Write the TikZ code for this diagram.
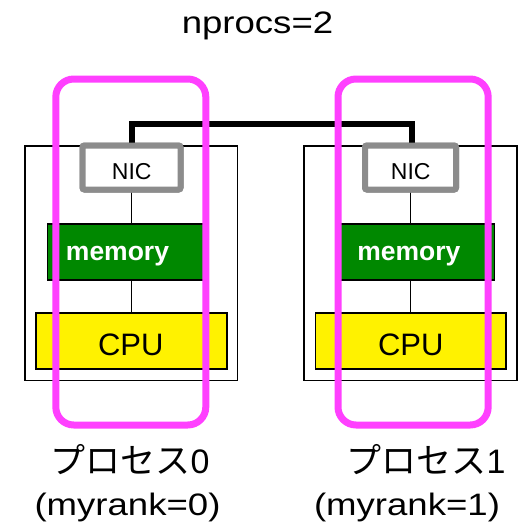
\documentclass[tikz,border=0pt]{standalone}
\usepackage{graphicx}
\usepackage{fontspec}
\setmainfont{Liberation Sans}
\newfontfamily\cjk{Noto Sans CJK JP}
\definecolor{pinkc}{RGB}{255,64,255}
\definecolor{memgreen}{RGB}{0,136,0}
\definecolor{nicgray}{RGB}{140,140,140}
\tikzset{
  hostbox/.style={draw=black,line width=1.5pt,fill=white,inner sep=0pt,outer sep=0pt,minimum height=234.5pt},
  nicbox/.style={draw=nicgray,line width=6pt,fill=white,rounded corners=2pt,inner sep=0pt,outer sep=0pt,minimum height=44pt},
  membox/.style={draw=black,line width=1.8pt,fill=memgreen,inner sep=0pt,outer sep=0pt,minimum width=156.5pt,minimum height=55.7pt},
  cpubox/.style={draw=black,line width=1.8pt,fill=yellow,inner sep=0pt,outer sep=0pt,minimum height=56pt},
  procbox/.style={draw=pinkc,line width=7pt,rounded corners=18pt,inner sep=0pt,outer sep=0pt,minimum height=346pt},
  thin/.style={line width=1.5pt,black},
  net/.style={line width=6pt,black},
  nictext/.style={anchor=base,inner sep=0pt,font=\fontsize{23}{27}\selectfont},
  memtext/.style={anchor=base,inner sep=0pt,text=white,font=\fontsize{26.5}{30}\selectfont\bfseries},
  cputext/.style={anchor=base,inner sep=0pt,font=\fontsize{31}{36}\selectfont},
  bigtext/.style={anchor=base,inner sep=0pt,font=\fontsize{31}{36}\selectfont},
}
\newcommand{\wide}[1]{\scalebox{1.18}[1]{#1}}
\newcommand{\kana}[1]{{\fontsize{35}{40}\selectfont\cjk #1}}
\newcommand{\digit}[1]{{\fontsize{34}{40}\selectfont #1}}
\begin{document}
\begin{tikzpicture}[x=1pt,y=-1pt]
\useasboundingbox (0,0) rectangle (523,522);
% title
\node[bigtext] (title) at (257.5,34) {\wide{nprocs=2}};
% host boxes
\node[hostbox,minimum width=212.7pt] (host0) at (131.35,263.25) {};
\node[hostbox,minimum width=213pt] (host1) at (410.5,263.25) {};
% NIC positions as coordinates
\coordinate (n0) at (131.7,167.5);
\coordinate (n1) at (410.5,167.5);
% memory and cpu
\node[membox] (mem0) at (125.75,251.85) {};
\node[membox] (mem1) at (416.25,251.85) {};
\node[cpubox,minimum width=190.8pt] (cpu0) at (131.4,341.3) {};
\node[cpubox,minimum width=190.5pt] (cpu1) at (410.75,341.3) {};
\draw[thin] (n0) -- (n0 |- mem0.north);
\draw[thin] (n0 |- mem0.south) -- (n0 |- cpu0.north);
\draw[thin] (n1) -- (n1 |- mem1.north);
\draw[thin] (n1 |- mem1.south) -- (n1 |- cpu1.north);
% network
\node[nicbox,minimum width=98pt] (nic0) at (131.5,167.5) {};
\node[nicbox,minimum width=91pt] (nic1) at (410.5,167.5) {};
\draw[net] ([xshift=0.5pt]nic0.north) -- ++(0,-22) -| ([xshift=1pt]nic1.north);
\node[nicbox,minimum width=98pt] at (nic0) {};
\node[nicbox,minimum width=91pt] at (nic1) {};
% texts
\node[nictext] (nict0) at (131.7,179.3) {NIC};
\node[nictext] (nict1) at (410.7,179.3) {NIC};
\node[memtext] (memt0) at (117.5,260) {memory};
\node[memtext] (memt1) at (408.8,260) {memory};
\node[cputext] (cput0) at (130.8,355) {CPU};
\node[cputext] (cput1) at (410.8,355) {CPU};
% process outlines
\node[procbox,minimum width=150pt] (proc0) at (130.8,252) {};
\node[procbox,minimum width=150.2pt] (proc1) at (413.1,252) {};
% labels
\node[bigtext] (lab0a) at (130,473) {\kana{プロセス}\digit{0}};
\node[bigtext] (lab0b) at (127.5,515) {\wide{(myrank=0)}};
\node[bigtext] (lab1a) at (426,473) {\kana{プロセス}\digit{1}};
\node[bigtext] (lab1b) at (407,515) {\wide{(myrank=1)}};
\end{tikzpicture}
\end{document}
